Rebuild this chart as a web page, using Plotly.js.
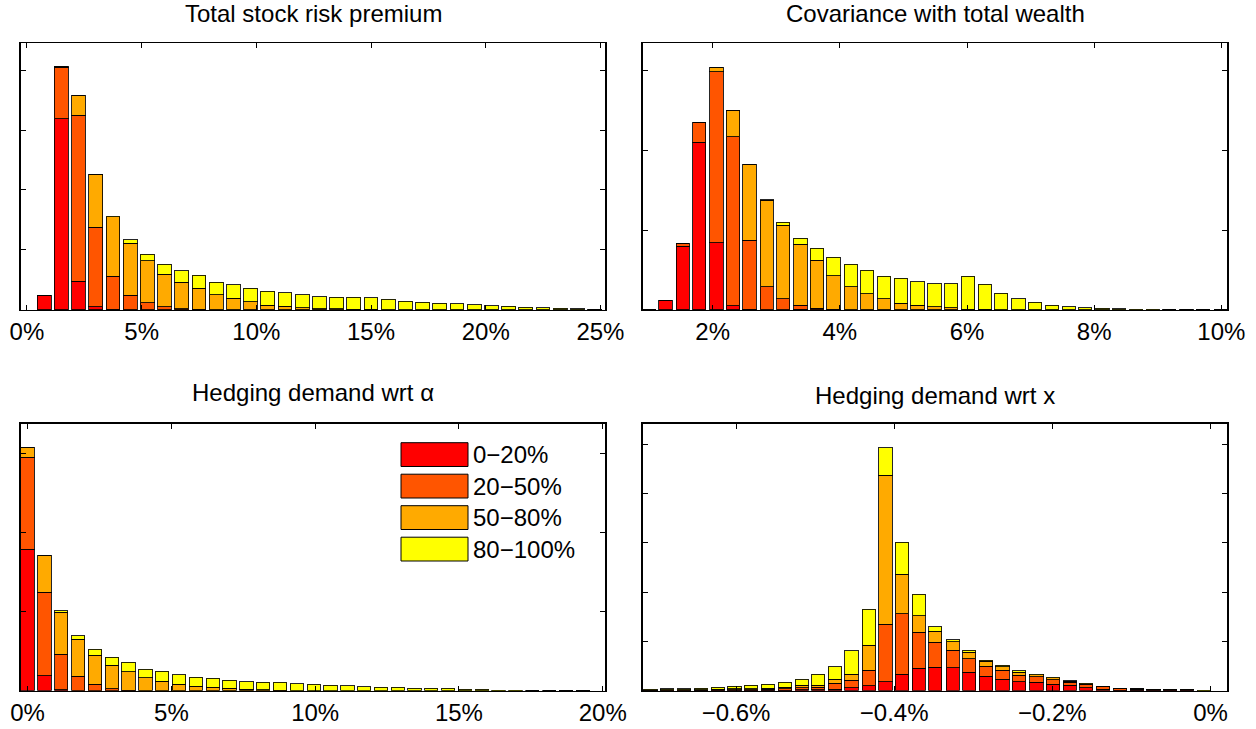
<!DOCTYPE html>
<html>
<head>
<meta charset="utf-8">
<script src="https://cdn.plot.ly/plotly-3.0.1.min.js"></script>
<style>
  body { margin: 0; background: #fff; }
  #chart { width: 1256px; height: 729px; }
</style>
</head>
<body>
<div id="chart"></div>
<script>
const group_names = ["0\u221220%", "20\u221250%", "50\u221280%", "80\u2212100%"]
const group_colors = ["#ff0000", "#ff5500", "#ffaa00", "#ffff00"]

// Total stock risk premium (%)
const tl_bins = [0.75,1.5,2.25,3,3.75,4.5,5.25,6,6.75,7.5,8.25,9,9.75,10.5,11.25,12,12.75,13.5,14.25,15,15.75,16.5,17.25,18,18.75,19.5,20.25,21,21.75,22.5,23.25,24,24.75]
const tl_red    = [0.24,3.19,0.48,0.05,0.01,0,0,0,0,0,0,0,0,0,0,0,0,0,0,0,0,0,0,0,0,0,0,0,0,0,0,0,0]
const tl_orange = [0,0.86,2.77,1.33,0.55,0.245,0.12,0.055,0.02,0.01,0,0,0,0,0,0,0,0,0,0,0,0,0,0,0,0,0,0,0,0,0,0,0]
const tl_light  = [0,0.01,0.32,0.88,0.99,0.865,0.70,0.54,0.44,0.35,0.25,0.195,0.14,0.08,0.06,0.04,0.02,0.02,0.01,0.01,0,0,0,0,0,0,0,0,0,0,0,0,0]
const tl_yellow = [0,0,0,0,0.01,0.06,0.11,0.165,0.19,0.22,0.21,0.225,0.22,0.23,0.23,0.215,0.2,0.19,0.2,0.19,0.18,0.145,0.13,0.11,0.105,0.083,0.072,0.06,0.045,0.04,0.028,0.017,0.006]

// Covariance with total wealth (%)
const tr_bins = [1.00,1.26,1.53,1.79,2.06,2.32,2.58,2.85,3.11,3.38,3.64,3.90,4.17,4.43,4.70,4.96,5.22,5.49,5.75,6.02,6.28,6.54,6.81,7.07,7.34,7.60,7.86,8.13,8.39,8.66,8.92,9.18,9.45,9.71,9.98]
const tr_red    = [0.01,0.117,0.8,2.1,0.84,0.05,0.01,0,0,0.01,0,0,0,0,0,0,0,0,0,0,0,0,0,0,0,0,0,0,0,0,0,0,0,0,0]
const tr_orange = [0,0,0.03,0.24,2.14,2.12,0.865,0.29,0.14,0.05,0.02,0.01,0,0,0,0,0,0,0,0,0,0,0,0,0,0,0,0,0,0,0,0,0,0,0]
const tr_light  = [0,0,0,0,0.05,0.33,0.95,1.08,0.92,0.76,0.60,0.42,0.29,0.2,0.14,0.085,0.06,0.04,0.03,0.01,0.01,0.005,0,0,0,0,0,0,0,0,0,0,0,0,0]
const tr_yellow = [0,0,0,0,0,0,0,0.01,0.04,0.08,0.15,0.23,0.28,0.3,0.285,0.315,0.29,0.285,0.295,0.415,0.31,0.205,0.14,0.096,0.058,0.042,0.03,0.02,0.015,0.01,0.007,0.005,0.004,0.003,0]

// Hedging demand wrt alpha (%)
const bl_bins = [0,0.59,1.17,1.76,2.34,2.93,3.51,4.10,4.68,5.27,5.85,6.44,7.02,7.61,8.19,8.78,9.36,9.95,10.53,11.12,11.70,12.29,12.87,13.46,14.04,14.63,15.21,15.80,16.38,16.97,17.55,18.14,18.72,19.31]
const bl_red    = [141.4,15,1,0,0,0,0,0,0,0,0,0,0,0,0,0,0,0,0,0,0,0,0,0,0,0,0,0,0,0,0,0,0,0]
const bl_orange = [92,83.4,35.4,14.7,6.4,2,0.5,0,0,0,0,0,0,0,0,0,0,0,0,0,0,0,0,0,0,0,0,0,0,0,0,0,0,0]
const bl_light  = [9.6,36.6,42,36.7,29,23.7,18.4,13,9.7,6.4,4.4,3.4,2.5,1.5,0.8,0.5,0.2,0.2,0.1,0,0,0,0,0,0,0,0,0,0,0,0,0,0,0]
const bl_yellow = [0,0,1.6,3.6,6,7.7,9.6,8.7,10,9.6,9.3,9,8.2,7.5,7.9,7.9,6.8,6.2,5.6,5,4,3.7,3.4,2.7,2.4,2.4,1.7,1.4,0.5,0.3,0.2,0.2,0.1,0]

// Hedging demand wrt x (%)
const br_bins = [-0.708,-0.687,-0.666,-0.644,-0.623,-0.602,-0.581,-0.560,-0.538,-0.517,-0.496,-0.475,-0.454,-0.432,-0.411,-0.390,-0.369,-0.348,-0.326,-0.305,-0.284,-0.263,-0.242,-0.220,-0.199,-0.178,-0.157,-0.136,-0.114,-0.093,-0.072,-0.051,-0.030,-0.008]
const br_red    = [0.2,0.2,0.2,0.3,0.3,0.4,0.4,0.5,0.6,1,1,1.4,3,5,9,16.4,22.4,23.7,23,18.4,14.4,11.4,9,8.4,6.7,5.7,3,1.5,0.7,0.5,0.3,0.3,0.3,0]
const br_orange = [0.2,0.3,0.3,0.4,0.5,0.7,0.8,1,1.4,2,2.5,6,7.7,15.7,57.4,60.6,36.3,25,17.7,13.6,10,9.3,6.7,5.6,4.3,3,3.4,2.5,1.5,1,0.7,0.7,0.7,0]
const br_light  = [0.3,0.4,0.4,0.5,0.6,0.8,0.9,1.1,1.7,2.4,2,4,6,24.7,149,39.4,16.3,10.7,8.3,6.4,5,3.3,2.7,2,2,1,0.8,0.6,0.4,0.4,0.3,0.3,0.3,0.2]
const br_yellow = [0.7,1.1,1.1,1.5,2,2.8,3.3,3.8,5,6,10.9,12.6,23.3,36,27.6,32,21.7,4.6,2,2,1.3,1.7,1.6,0.7,0.4,0.3,0.2,0.1,0.1,0.1,0.1,0.1,0.1,0.5]

const panels = [
    { xa: "x",  ya: "y",  bins: tl_bins, series: [tl_red, tl_orange, tl_light, tl_yellow] },
    { xa: "x2", ya: "y2", bins: tr_bins, series: [tr_red, tr_orange, tr_light, tr_yellow] },
    { xa: "x3", ya: "y3", bins: bl_bins, series: [bl_red, bl_orange, bl_light, bl_yellow] },
    { xa: "x4", ya: "y4", bins: br_bins, series: [br_red, br_orange, br_light, br_yellow] },
]

let data = []
for (const p of panels) {
    p.series.forEach((vals, i) => {
        data.push({
            type: "bar", x: p.bins, y: vals, xaxis: p.xa, yaxis: p.ya,
            name: group_names[i], showlegend: false,
            marker: { color: group_colors[i], line: { color: "rgba(0,0,0,0.85)", width: 1 } },
            hoverinfo: "skip"
        })
    })
}

const tfont = { family: "Liberation Sans, Arial, sans-serif", size: 24, color: "#000" }

function xaxis_for(domain, range, tickvals, ticktext, anchor)
{
    return {
        domain: domain, range: range, anchor: anchor,
        tickmode: "array", tickvals: tickvals, ticktext: ticktext,
        ticks: "inside", ticklen: 5, tickcolor: "#000", mirror: "ticks",
        showline: true, linecolor: "#000", linewidth: 1.5,
        showgrid: false, zeroline: false, tickfont: tfont
    }
}

function yaxis_for(domain, range, tickvals, anchor)
{
    return {
        domain: domain, range: range, anchor: anchor,
        tickmode: "array", tickvals: tickvals, showticklabels: false,
        ticks: "inside", ticklen: 5, tickcolor: "#000", mirror: "ticks",
        showline: true, linecolor: "#000", linewidth: 1.5,
        showgrid: false, zeroline: false
    }
}

const x_left = [0.0167, 0.4817]
const x_right = [0.5117, 0.977]
const y_top = [0.5748, 0.941]
const y_bot = [0.0525, 0.4184]

const layout = {
    width: 1256, height: 729,
    margin: { l: 0, r: 0, t: 0, b: 0 },
    paper_bgcolor: "#fff", plot_bgcolor: "#fff",
    barmode: "stack", bargap: 0.2,
    font: tfont,
    xaxis: xaxis_for(x_left, [-0.26, 25.2], [0,5,10,15,20,25], ["0%","5%","10%","15%","20%","25%"], "y"),
    yaxis: yaxis_for(y_top, [0, 4.45], [1,2,3,4], "x"),
    xaxis2: xaxis_for(x_right, [0.9, 10.09], [2,4,6,8,10], ["2%","4%","6%","8%","10%"], "y2"),
    yaxis2: yaxis_for(y_top, [0, 3.34], [1,2,3], "x2"),
    xaxis3: xaxis_for(x_left, [-0.23, 20.08], [0,5,10,15,20], ["0%","5%","10%","15%","20%"], "y3"),
    yaxis3: yaxis_for(y_bot, [0, 266.7], [79,158,237], "x3"),
    xaxis4: xaxis_for(x_right, [-0.718, 0.021], [-0.6,-0.4,-0.2,0], ["\u22120.6%","\u22120.4%","\u22120.2%","0%"], "y4"),
    yaxis4: yaxis_for(y_bot, [0, 266.7], [49.3,98.6,147.9,197.2,246.5], "x4"),
    annotations: [
        { text: "Total stock risk premium", x: 313 / 1256, y: 1 - 14 / 729 },
        { text: "Covariance with total wealth", x: 935 / 1256, y: 1 - 14 / 729 },
        { text: "Hedging demand wrt \u03b1", x: 313 / 1256, y: 1 - 392 / 729 },
        { text: "Hedging demand wrt x", x: 935 / 1256, y: 1 - 395 / 729 },
    ].map(a => Object.assign(a, { xref: "paper", yref: "paper", showarrow: false, font: tfont, xanchor: "center", yanchor: "middle" })),
    shapes: []
}

// legend drawn in the lower-left panel
group_names.forEach((name, i) => {
    const top = 1 - (442.7 + i * 31.5) / 729
    const bot = 1 - (466.5 + i * 31.5) / 729
    layout.shapes.push({
        type: "rect", xref: "paper", yref: "paper",
        x0: 401 / 1256, x1: 468 / 1256, y0: bot, y1: top,
        fillcolor: group_colors[i], line: { color: "#000", width: 1 }
    })
    layout.annotations.push({
        text: name, xref: "paper", yref: "paper", x: 471 / 1256, y: (top + bot) / 2,
        xanchor: "left", yanchor: "middle", showarrow: false, font: tfont
    })
})

Plotly.newPlot("chart", data, layout, { displayModeBar: false, staticPlot: true })
</script>
</body>
</html>
